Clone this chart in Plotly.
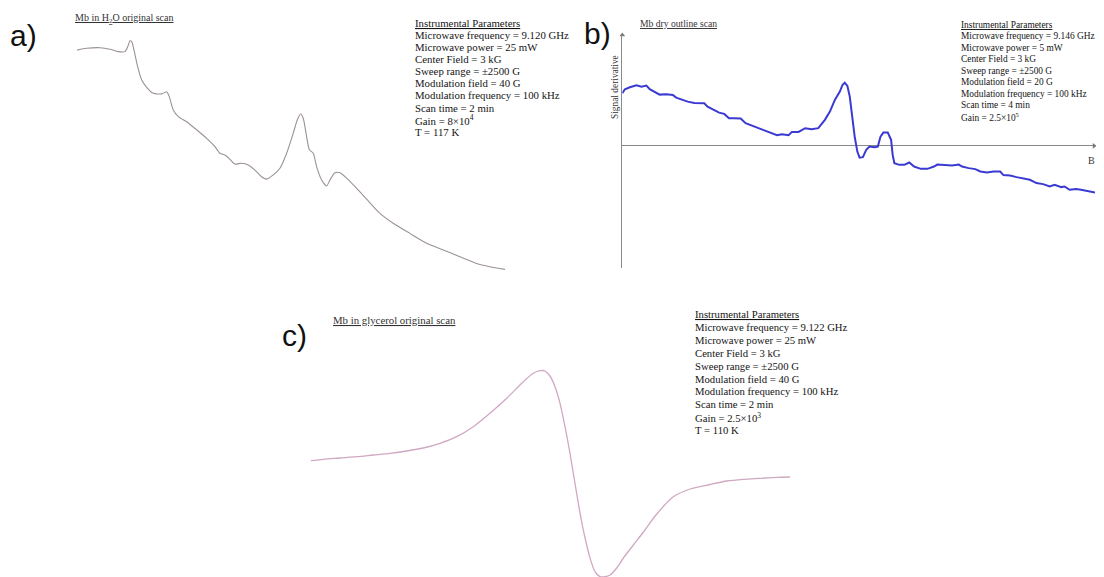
import plotly.graph_objects as go

# The page body adds an 8 px margin and the visible page ends near x = 1096,
# so the figure is sized to that area and reference pixel positions are shifted by OFF.
OFF = 8
W, H = 1104 - 2 * OFF, 577 - OFF

# ---------------- Panel a: Mb in H2O original scan ----------------
a_field = [500, 613, 769, 885, 982, 1061, 1092, 1119, 1139, 1166, 1204, 1256, 1314, 1391,
           1489, 1548, 1578, 1625, 1683, 1781, 1898, 2015, 2112, 2170, 2229, 2287, 2345,
           2424, 2501, 2579, 2657, 2716, 2793, 2871, 2949, 3026, 3073, 3113, 3143, 3183,
           3213, 3260, 3300, 3358, 3416, 3455, 3513, 3572, 3650, 3767, 3884, 4039, 4194,
           4389, 4584, 4778, 4973, 5168, 5324, 5500]
a_signal = [83.3, 83.9, 84.1, 83.6, 82.8, 82.8, 84.4, 86.4, 86.1, 83.3, 78.3, 73.3, 70.9, 68.9,
            68.7, 69.4, 67.8, 63.3, 61.1, 59.4, 56.7, 53.9, 51.1, 48.9, 48.3, 46.9, 45.3,
            45.6, 45.0, 43.3, 41.1, 40.3, 41.7, 43.9, 48.9, 55.6, 60.0, 62.0, 60.6, 54.4,
            50.2, 48.9, 44.4, 40.0, 38.0, 40.0, 42.4, 42.4, 40.6, 37.2, 33.6, 28.9, 25.6,
            22.2, 18.9, 16.7, 14.4, 12.2, 11.1, 10.2]

# ---------------- Panel b: Mb dry outline scan ----------------
b_field = [500, 528, 580, 650, 703, 755, 790, 843, 895, 965, 1035, 1070, 1122, 1192, 1262,
           1315, 1367, 1402, 1472, 1524, 1578, 1629, 1682, 1752, 1804, 1874, 1944, 2014,
           2084, 2136, 2189, 2259, 2294, 2364, 2434, 2503, 2573, 2643, 2696, 2748, 2801,
           2829, 2853, 2881, 2906, 2930, 2958, 2986, 3010, 3045, 3080, 3115, 3168, 3203,
           3231, 3262, 3308, 3343, 3360, 3378, 3430, 3483, 3535, 3587, 3657, 3727, 3797,
           3832, 3920, 3989, 4059, 4094, 4164, 4234, 4287, 4357, 4427, 4497, 4531, 4601,
           4671, 4741, 4811, 4881, 4951, 5021, 5073, 5143, 5178, 5231, 5301, 5353, 5406,
           5441, 5500]
b_signal = [52.7, 56.7, 58.7, 60.7, 59.3, 60.3, 56.7, 54.3, 51.3, 51.7, 51.0, 48.3, 46.7, 44.3,
            43.0, 42.7, 42.7, 39.3, 36.0, 33.3, 32.0, 27.7, 27.7, 27.3, 22.7, 20.0, 17.7,
            15.0, 12.7, 10.7, 11.7, 10.7, 14.0, 14.0, 17.7, 16.7, 17.7, 26.0, 34.3, 46.0,
            54.3, 61.0, 63.3, 60.0, 49.3, 29.3, 9.3, -5.7, -11.7, -11.3, -4.0, -0.7, -1.3,
            -0.7, 9.3, 13.3, 13.3, 6.0, -9.0, -17.3, -19.0, -19.0, -16.7, -20.7, -23.0,
            -23.0, -20.7, -18.7, -19.0, -19.7, -18.7, -20.7, -22.3, -23.3, -25.7, -26.7,
            -25.7, -25.7, -29.3, -29.7, -31.3, -33.0, -34.0, -37.3, -38.3, -40.7, -39.0,
            -41.3, -40.7, -44.0, -43.3, -44.0, -45.0, -45.0, -46.7]
b_axis_ends_field = [500, 5490]
b_axis_ends_signal = [111, 0]

# ---------------- Panel c: Mb in glycerol original scan ----------------
c_field = [500, 631, 806, 980, 1153, 1327, 1501, 1675, 1849, 2023, 2196, 2370, 2545, 2718,
           2822, 2892, 2944, 2996, 3049, 3101, 3153, 3205, 3257, 3310, 3362, 3414, 3466,
           3518, 3571, 3623, 3692, 3762, 3866, 3971, 4110, 4283, 4458, 4666, 4841, 5013,
           5188, 5362, 5500]
c_signal = [39.3, 40.7, 42.0, 43.3, 45.0, 46.7, 49.0, 52.0, 56.7, 63.3, 73.3, 86.7, 101.7,
            118.3, 126.7, 129.3, 129.0, 124.0, 113.3, 96.7, 73.3, 46.7, 16.7, -13.3, -38.0,
            -58.0, -71.7, -76.7, -76.7, -75.0, -68.0, -58.0, -45.0, -32.0, -14.0, 3.3, 11.0,
            15.5, 19.0, 20.7, 21.7, 22.7, 23.0]

# ---------------- Text ----------------
panel_labels = ["a)", "b)", "c)"]
titles = ["Mb in H<sub>2</sub>O original scan", "Mb dry outline scan",
          "Mb in glycerol original scan"]
params_a = ["Instrumental Parameters",
            "Microwave frequency = 9.120 GHz",
            "Microwave power = 25 mW",
            "Center Field = 3 kG",
            "Sweep range = \u00b12500 G",
            "Modulation field = 40 G",
            "Modulation frequency = 100 kHz",
            "Scan time = 2 min",
            "Gain = 8\u00d710<sup>4</sup>",
            "T = 117 K"]
params_b = ["Instrumental Parameters",
            "Microwave frequency = 9.146 GHz",
            "Microwave power = 5 mW",
            "Center Field = 3 kG",
            "Sweep range = \u00b12500 G",
            "Modulation field = 20 G",
            "Modulation frequency = 100 kHz",
            "Scan time = 4 min",
            "Gain = 2.5\u00d710<sup>5</sup>"]
params_c = ["Instrumental Parameters",
            "Microwave frequency = 9.122 GHz",
            "Microwave power = 25 mW",
            "Center Field = 3 kG",
            "Sweep range = \u00b12500 G",
            "Modulation field = 40 G",
            "Modulation frequency = 100 kHz",
            "Scan time = 2 min",
            "Gain = 2.5\u00d710<sup>3</sup>",
            "T = 110 K"]


def px(x):
    return (x - OFF) / W


def py(y):
    return 1 - (y - OFF) / H


fig = go.Figure()
fig.add_trace(go.Scatter(x=a_field, y=a_signal, mode="lines", xaxis="x", yaxis="y",
                         line=dict(color="#9c9294", width=1.1, shape="spline", smoothing=0.6),
                         showlegend=False, hoverinfo="skip"))
fig.add_trace(go.Scatter(x=b_field, y=b_signal, mode="lines", xaxis="x2", yaxis="y2",
                         line=dict(color="#3a3ad2", width=2),
                         showlegend=False, hoverinfo="skip"))
fig.add_trace(go.Scatter(x=b_axis_ends_field, y=b_axis_ends_signal, mode="markers",
                         xaxis="x2", yaxis="y2", cliponaxis=False,
                         marker=dict(symbol=["triangle-up", "triangle-right"], size=5,
                                     color="#777", line=dict(width=0)),
                         showlegend=False, hoverinfo="skip"))
fig.add_trace(go.Scatter(x=c_field, y=c_signal, mode="lines", xaxis="x3", yaxis="y3",
                         line=dict(color="#d0a8c2", width=1.3, shape="spline", smoothing=0.8),
                         showlegend=False, hoverinfo="skip"))

hidden = dict(visible=False, showgrid=False, zeroline=False)
fig.update_layout(
    width=W, height=H,
    margin=dict(l=0, r=0, t=0, b=0),
    paper_bgcolor="white", plot_bgcolor="rgba(0,0,0,0)",
    showlegend=False,
    xaxis=dict(domain=[px(77), px(505)], range=[500, 5500], **hidden),
    yaxis=dict(domain=[py(300), py(8)], range=[0, 100 - 8 / 3], **hidden),
    xaxis2=dict(domain=[px(622.3), px(1095)], range=[500, 5500], anchor="y2",
                showgrid=False, zeroline=False, showline=False, showticklabels=False, ticks=""),
    yaxis2=dict(domain=[py(268), py(35)], range=[-122.3, 111], anchor="x2",
                showgrid=False, zeroline=True, zerolinecolor="#8a8a8a", zerolinewidth=1,
                showline=True, linecolor="#8a8a8a", linewidth=1,
                showticklabels=False, ticks=""),
    xaxis3=dict(domain=[px(310.7), px(790)], range=[500, 5500], anchor="y3", **hidden),
    yaxis3=dict(domain=[0, py(300)], range=[-77, 200], anchor="x3", **hidden),
)

ann = []
serif = "Liberation Serif, Times New Roman, serif"
sans = "Liberation Sans, Arial, sans-serif"

# panel letters
for lab, (x0, y0) in zip(panel_labels, [(23, 36), (597, 33), (294, 335)]):
    ann.append(dict(text=lab, x=px(x0), y=py(y0), xref="paper", yref="paper",
                    xanchor="center", yanchor="middle", showarrow=False,
                    font=dict(family=sans, size=30, color="#111")))

# scan titles
for t, (x0, y0), fs in zip(titles, [(72.7, 18.5), (638, 23), (330.7, 320)], [10, 9.6, 10.8]):
    ann.append(dict(text=t, x=px(x0), y=py(y0), xref="paper", yref="paper",
                    xanchor="left", yanchor="middle", showarrow=False,
                    font=dict(family=serif, size=fs, color="#333", lineposition="under")))

# parameter blocks
for lines, x0, y0, dy, fs in [(params_a, 413, 22.8, 12.1, 10.8),
                              (params_b, 959, 24.8, 11.5, 9.4),
                              (params_c, 692.7, 314, 12.9, 10.7)]:
    for i, s in enumerate(lines):
        ann.append(dict(text=s, x=px(x0), y=py(y0 + i * dy), xref="paper", yref="paper",
                        xanchor="left", yanchor="middle", showarrow=False,
                        font=dict(family=serif, size=fs, color="#141414",
                                  lineposition="under" if i == 0 else "none")))

# panel b axis labels
ann.append(dict(text="Signal derivative", x=px(615), y=py(87), xref="paper", yref="paper",
                textangle=-90, xanchor="center", yanchor="middle", showarrow=False,
                font=dict(family=serif, size=9.4, color="#333")))
ann.append(dict(text="B", x=px(1091), y=py(160), xref="paper", yref="paper",
                xanchor="center", yanchor="middle", showarrow=False,
                font=dict(family=serif, size=10, color="#333")))

fig.update_layout(annotations=ann)
fig.write_html("out.html")
